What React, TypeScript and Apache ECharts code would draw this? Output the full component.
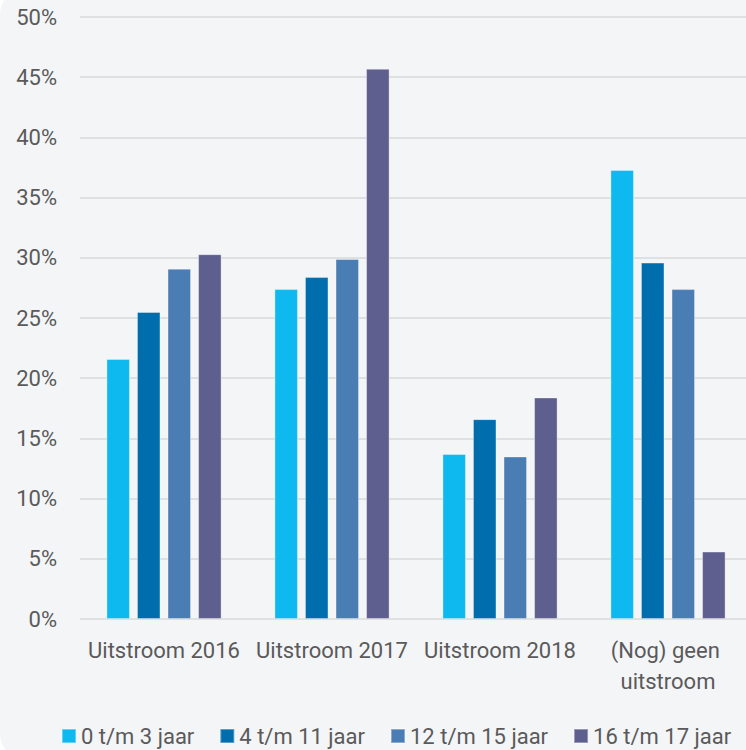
import React, { useEffect, useRef } from "react";
import * as echarts from "echarts";

const categories = ["Uitstroom 2016", "Uitstroom 2017", "Uitstroom 2018", "(Nog) geen uitstroom"];
const seriesNames = ["0 t/m 3 jaar", "4 t/m 11 jaar", "12 t/m 15 jaar", "16 t/m 17 jaar"];
const age0to3 = [21.6, 27.4, 13.7, 37.3];
const age4to11 = [25.5, 28.4, 16.6, 29.6];
const age12to15 = [29.1, 29.9, 13.5, 27.4];
const age16to17 = [30.3, 45.7, 18.4, 5.6];
const colors = ["#0DB9EE", "#006EAD", "#4A7DB4", "#5E5E8F"];

const FONT = "Roboto";
const TEXT = "#5a5a5a";

export default function App() {
  const ref = useRef<HTMLDivElement>(null);
  useEffect(() => {
    if (!ref.current) return;
    const chart = echarts.init(ref.current, undefined, { renderer: "svg" });
    const values = [age0to3, age4to11, age12to15, age16to17];
    chart.setOption({
      animation: false,
      textStyle: { fontFamily: FONT },
      grid: { left: 80, right: 0, top: 17, bottom: 131, containLabel: false },
      legend: {
        left: 61,
        top: 725,
        padding: 0,
        icon: "rect",
        itemWidth: 14,
        itemHeight: 14,
        itemGap: 25,
        textStyle: { fontSize: 22, color: TEXT, fontFamily: FONT },
        data: seriesNames,
      },
      xAxis: {
        type: "category",
        data: categories,
        axisLine: { show: false },
        axisTick: { show: false },
        axisLabel: {
          interval: 0,
          fontSize: 22,
          color: TEXT,
          fontFamily: FONT,
          margin: 16,
          lineHeight: 31,
          width: 160,
          overflow: "break",
        },
      },
      yAxis: {
        type: "value",
        min: 0,
        max: 50,
        interval: 5,
        axisLine: { show: false },
        axisTick: { show: false },
        axisLabel: {
          formatter: "{value}%",
          fontSize: 22,
          color: TEXT,
          fontFamily: FONT,
          margin: 23,
        },
        splitLine: { lineStyle: { color: "#d8d8d8", width: 1.5 } },
      },
      series: seriesNames.map((name, i) => ({
        name,
        type: "bar",
        data: values[i],
        barWidth: 23.5,
        barGap: "30%",
        itemStyle: {
          color: colors[i],
          borderColor: "rgba(255,255,255,0.35)",
          borderWidth: 1,
        },
      })),
    });
    return () => chart.dispose();
  }, []);

  return (
    <div
      style={{
        position: "fixed",
        left: 0,
        top: 0,
        width: 746,
        height: 750,
        overflow: "hidden",
        background: "#ffffff",
      }}
    >
      <div
        style={{
          position: "absolute",
          left: 0,
          top: -10,
          width: 800,
          height: 768,
          borderRadius: 24,
          background: "#f4f5f7",
        }}
      />
      <div ref={ref} style={{ position: "absolute", left: 0, top: 0, width: 752, height: 750 }} />
    </div>
  );
}
